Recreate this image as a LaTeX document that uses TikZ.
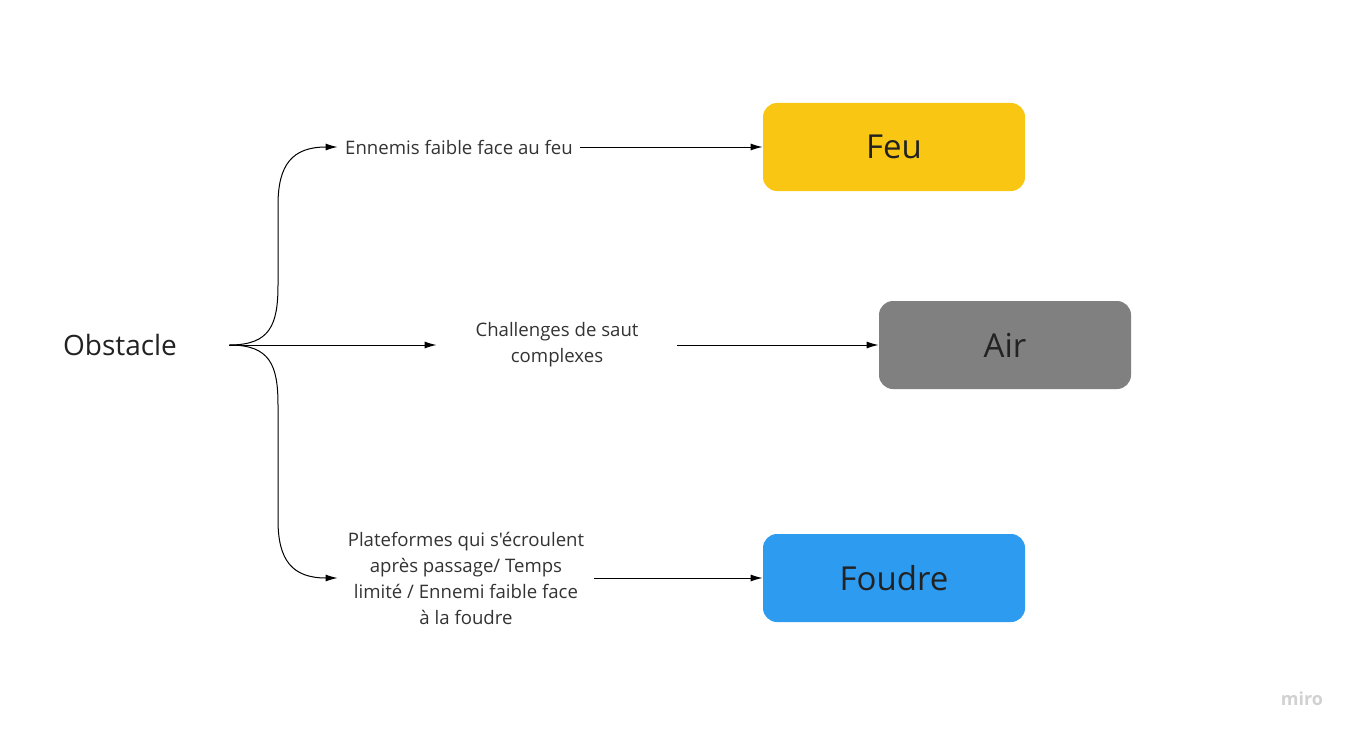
\documentclass[tikz,border=0pt]{standalone}
\usepackage{fontspec}
\setmainfont{Open Sans}[Ligatures=TeXOff]
\usetikzlibrary{arrows.meta}
\definecolor{feuc}{HTML}{F9C713}
\definecolor{airc}{HTML}{808080}
\definecolor{foudrec}{HTML}{2D9BF0}
\definecolor{txt}{HTML}{222222}
\definecolor{lbl}{HTML}{333333}
\begin{document}
\begin{tikzpicture}[x=0.5pt,y=-0.5pt,
  box/.style={rounded corners=7pt, minimum width=131pt, minimum height=44pt, inner sep=0pt, text=txt, font=\fontsize{16.5}{19}\selectfont},
  lab/.style={align=center, text=lbl, inner sep=0pt, font=\fontsize{9.3}{13}\selectfont},
  arr/.style={-{Latex[length=6pt,width=3.5pt]}, line width=0.5pt, black}]
\useasboundingbox (0,0) rectangle (1354,738);
\node[text=txt, font=\fontsize{14}{16}\selectfont, minimum width=109pt, inner sep=0pt] (obs) at (120,345) {Obstacle};
\node[box, fill=feuc] (feu) at (894,147) {Feu};
\node[box, fill=airc, minimum width=126pt] (air) at (1005,345) {Air};
\node[box, fill=foudrec] (foudre) at (894,578) {Foudre};
\node[lab, minimum width=121pt, minimum height=10pt] (l1) at (459,147) {Ennemis faible face au feu};
\node[lab, minimum width=120pt] (l2) at (557,345) {Challenges de saut\\complexes};
\node[lab, minimum width=128pt] (l3) at (466,578) {Plateformes qui s'écroulent\\après passage/ Temps\\limité / Ennemi faible face\\à la foudre};
\node[text=black!18, font=\bfseries\fontsize{9}{10}\selectfont, inner sep=0pt] (miro) at (1302,699) {miro};
\draw[arr] (obs.east) .. controls (270,345) and (278,325) .. (278,285) -- (278,205) .. controls (278,165) and (292,147) .. (l1.west);
\draw[arr] (obs.east) .. controls (270,345) and (278,365) .. (278,405) -- (278,520) .. controls (278,560) and (292,578) .. (l3.west);
\draw[arr] (obs.east) -- (l2.west);
\draw[arr] (l1.east) -- (feu.west);
\draw[arr] (l2.east) -- (air.west);
\draw[arr] (l3.east) -- (foudre.west);
\end{tikzpicture}
\end{document}
